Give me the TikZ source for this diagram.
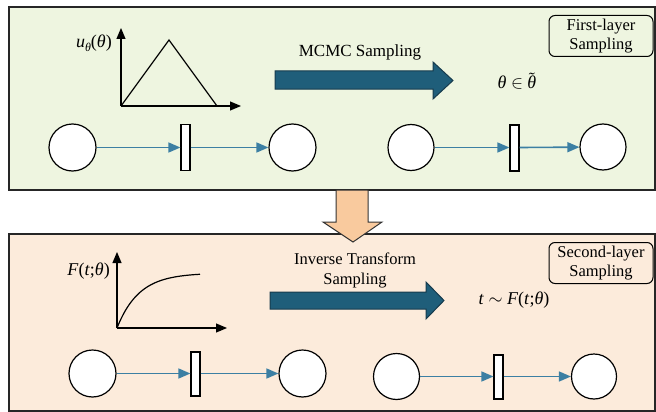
\documentclass[tikz,border=0pt]{standalone}
\usepackage{mathptmx}
\usepackage{fontspec}
\setmainfont{Liberation Serif}
\usetikzlibrary{arrows.meta}
\definecolor{topbg}{HTML}{EEF5E0}
\definecolor{botbg}{HTML}{FCEBDB}
\definecolor{bigarrow}{HTML}{1F5E7A}
\definecolor{bigedge}{HTML}{173B4D}
\definecolor{petri}{HTML}{3C7FA3}
\definecolor{orangearr}{HTML}{F9CA9E}
\newcommand{\ith}{\textit{θ}}
\begin{document}
\begin{tikzpicture}[x=1pt,y=-1pt,
  panel/.style={line width=1.1pt, draw=black!85},
  place/.style={circle, draw, fill=white, line width=1.2pt, minimum size=47pt, inner sep=0pt},
  trans/.style={rectangle, draw, fill=white, line width=1.2pt, minimum width=9pt, minimum height=46pt, inner sep=0pt},
  flow/.style={draw=petri, line width=1.6pt, -{Triangle[length=12pt,width=10pt]}},
  axis/.style={line width=1.2pt, -{Triangle[length=11pt,width=9pt]}},
  bigarr/.style={fill=bigarrow, draw=bigedge, line width=1pt, line join=miter},
  tagbox/.style={draw, rounded corners=6pt, line width=1pt, minimum width=104pt, minimum height=41pt, align=center, inner sep=0pt, font=\fontsize{16.5}{19}\selectfont},
  txt/.style={font=\fontsize{17}{20}\selectfont, inner sep=0pt},
  mlab/.style={font=\fontsize{18}{20}\selectfont, inner sep=0pt}
]
\useasboundingbox (0,0) rectangle (656,412);
% panels
\fill[topbg] (9,7) rectangle (655,190);
\draw[panel] (9,7) rectangle (655,190);
\fill[botbg] (9,234) rectangle (655,411);
\draw[panel] (9,234) rectangle (655,411);
% orange down arrow
\draw[fill=orangearr, draw=black!80, line width=1pt, line join=miter]
  (336,190) -- (368,190) -- (368,222) -- (382,222) -- (353,242) -- (323,222) -- (336,222) -- cycle;

% ---------- top panel ----------
\coordinate (o1) at (121,106);
\coordinate (y1) at (121,28);
\coordinate (x1) at (241,106);
\draw[axis] (o1) -- (y1);
\draw[axis] (o1) -- (x1);
\draw[line width=1.2pt, line join=miter] (o1) -- (169,40) -- (217,106);
\node[mlab, anchor=east] (ulab) at (112,43) {\textit{u}\raisebox{-4pt}{\fontsize{12}{12}\selectfont\ith}(\ith)};

\node[txt] (mcmc) at (360,52) {MCMC Sampling};
\draw[bigarr] (275,71) -- (433,71) -- (433,62) -- (453,80.5) -- (433,99) -- (433,89) -- (275,89) -- cycle;
\node[mlab] (theta) at (517,81) {\ith\ $\in$ $\tilde{\hbox{\ith}}$};
\node[tagbox] (box1) at (601,36) {First-layer\\Sampling};

\node[place] (p1) at (72.5,147.5) {};
\node[trans] (t1) at (185.5,147.5) {};
\node[place] (p2) at (292.5,147.5) {};
\draw[flow] (p1) -- (t1);
\draw[flow] (t1) -- (p2);

\node[place, minimum size=46pt] (p3) at (411,147.5) {};
\node[trans] (t2) at (514.5,148) {};
\node[place, minimum size=46pt] (p4) at (603,147) {};
\draw[flow] (p3) -- (p3 -| t2.west);
\draw[flow] (p3 -| t2.east) -- (p4);

% ---------- bottom panel ----------
\coordinate (o2) at (117,328);
\coordinate (y2) at (117,252);
\coordinate (x2) at (227,328);
\draw[axis] (o2) -- (y2);
\draw[axis] (o2) -- (x2);
\draw[line width=1.2pt, domain=117:200, samples=60, smooth]
  plot (\x, {328-55*(1-exp(-(\x-117)/22))});
\node[mlab, anchor=east] (flab) at (110,271) {\textit{F}(\textit{t};\ith)};

\node[txt, align=center, font=\fontsize{16.5}{20}\selectfont] (its) at (355,270) {Inverse Transform\\Sampling};
\draw[bigarr] (270,292) -- (426,292) -- (426,282) -- (444,300.5) -- (426,319) -- (426,309) -- (270,309) -- cycle;
\node[mlab] (tsim) at (514,300) {\textit{t} $\sim$ \textit{F}(\textit{t};\ith)};
\node[tagbox] (box2) at (601,263) {Second-layer\\Sampling};

\node[place] (q1) at (92.5,373.5) {};
\node[trans, minimum height=44pt] (s1) at (195.5,374) {};
\node[place] (q2) at (302.5,373.5) {};
\draw[flow] (q1) -- (q1 -| s1.west);
\draw[flow] (q1 -| s1.east) -- (q2);

\node[place, minimum size=46pt] (q3) at (396.5,376.5) {};
\node[trans, minimum height=44pt] (s2) at (498.5,377) {};
\node[place, minimum size=45pt] (q4) at (594,376.5) {};
\draw[flow] (q3) -- (q3 -| s2.west);
\draw[flow] (q3 -| s2.east) -- (q4);
\end{tikzpicture}
\end{document}
